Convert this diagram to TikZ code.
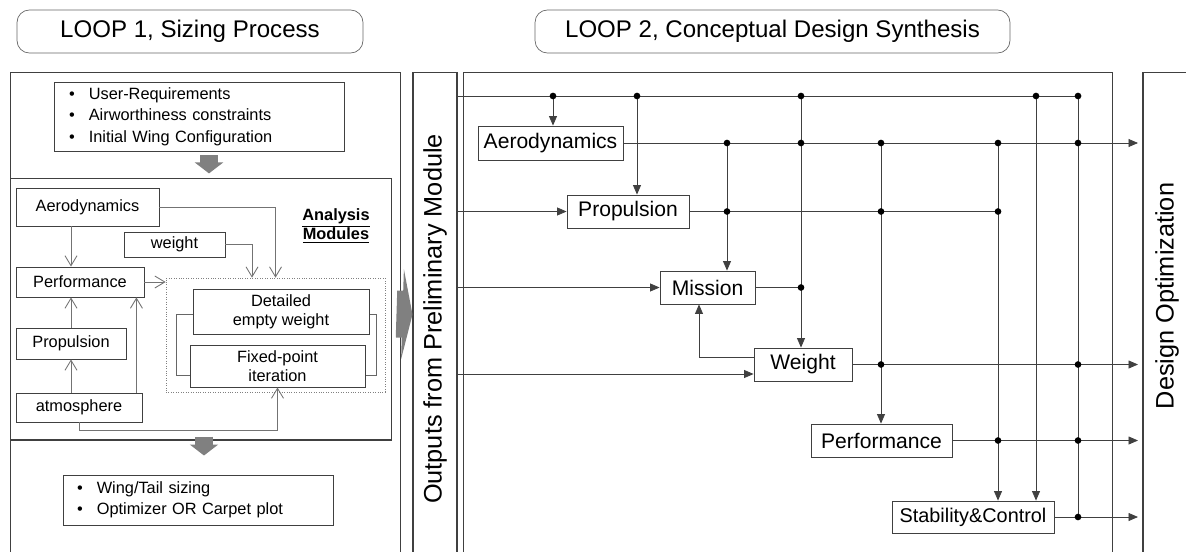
\documentclass[tikz,border=0pt]{standalone}
\usepackage{fontspec}
\setmainfont{Liberation Sans}
\usepackage{tikz}
\usetikzlibrary{
        arrows.meta,
        positioning
    }
\definecolor{blockgray}{RGB}{128,128,128}
\definecolor{framegray}{RGB}{64,64,64}
\tikzset{
  title box/.style={draw=black!60,rounded corners=7pt,minimum height=0.86cm,inner sep=0pt,font=\fontsize{13.7}{16}\selectfont},
  frame/.style={draw=framegray,line width=0.6pt,inner sep=0pt,minimum height=9.68cm},
  module/.style={draw=framegray,fill=white,inner sep=0pt,line width=0.5pt,align=center,font=\fontsize{9.3}{11}\selectfont},
  bullets/.style={draw=framegray,line width=0.5pt,align=left,inner ysep=0pt,font=\fontsize{9.3}{12.2}\selectfont},
  block/.style={draw=black!75,fill=white,inner sep=0pt,minimum height=0.66cm,line width=0.5pt,font=\fontsize{12}{14}\selectfont},
  flow/.style={draw=black!55,line width=0.5pt,-{Straight Barb[length=2mm,width=2.4mm]}},
  bus/.style={draw=black!75,line width=0.45pt},
  feed/.style={bus,-{Triangle[length=1.9mm,width=1.6mm]}},
  bigdown/.style={draw=blockgray,line width=0.36cm,-{Triangle[length=0.22cm,width=0.56cm]}},
  bigright/.style={draw=blockgray,line width=0.94cm,-{Triangle[length=0.2cm,width=1.8cm]}},
  vlabel/.style={rotate=90,font=\fontsize{14.4}{16}\selectfont}
}

\begin{document}
\begin{tikzpicture}[x=0.02cm,y=-0.02cm]
    \useasboundingbox (0,0) rectangle (1186,551);
    % titles
    \node[title box,minimum width=6.92cm] (title1) at (190,31.5) {LOOP 1, Sizing Process};
    \node[title box,minimum width=9.5cm] (title2) at (772.5,31.5) {LOOP 2, Conceptual Design Synthesis};

    % frames
    \node[frame,minimum width=7.82cm] (loop1box) at (205.5,314) {};
    \node[frame,minimum width=0.88cm] (outbox) at (435,314.5) {};
    \node[frame,minimum width=13cm] (loop2box) at (788,314.5) {};
    \node[frame,minimum width=0.96cm] (optbox) at (1167,314.5) {};
    \node[vlabel] (outlbl) at (435,319) {Outputs from Preliminary Module};
    \node[vlabel] (optlbl) at (1167,296) {Design Optimization};

    % loop 1
    \node[bullets,minimum width=5.8cm,minimum height=1.38cm,text width=5.2cm,inner xsep=0.3cm] (reqs) at (199,116.5)
        {\textbullet\hspace{8pt}User-Requirements\\\textbullet\hspace{8pt}Airworthiness constraints\\\textbullet\hspace{8pt}Initial Wing Configuration};
    \node[frame,minimum width=7.64cm,minimum height=5.24cm] (anabox) at (201,309) {};
    \node[bullets,minimum width=5.4cm,minimum height=1cm,text width=4.84cm,inner xsep=0.28cm] (sizing) at (198,500)
        {\textbullet\hspace{8pt}Wing/Tail sizing\\\textbullet\hspace{8pt}Optimizer OR Carpet plot};

    \node[module,minimum width=2.86cm,minimum height=0.76cm] (aero1) at (87.5,207) {Aerodynamics};
    \node[module,minimum width=2.02cm,minimum height=0.5cm] (wgt1) at (174.5,244.5) {weight};
    \node[module,minimum width=2.56cm,minimum height=0.6cm] (perf1) at (80,282) {Performance};
    \node[module,minimum width=2.2cm,minimum height=0.62cm] (prop1) at (71,343.5) {Propulsion};
    \node[module,minimum width=2.52cm,minimum height=0.58cm] (atm) at (79,407.5) {atmosphere};
    \node[font=\bfseries\fontsize{9.3}{10.8}\selectfont,align=center] (anlbl) at (336,226) {\underline{Analysis}\\\underline{Modules}};

    \node[draw=black!50,densely dotted,line width=0.4pt,minimum width=4.38cm,minimum height=2.28cm,inner sep=0pt] (itbox) at (275.5,335) {};
    \node[draw=black!60,line width=0.5pt,minimum width=4cm,minimum height=1.22cm,inner sep=0pt] (ring) at (276,344.5) {};
    \node[module,minimum width=3.52cm,minimum height=0.9cm] (det) at (281,311.5) {Detailed\\empty weight};
    \node[module,minimum width=3.5cm,minimum height=0.84cm] (fix) at (277.5,366) {Fixed-point\\iteration};

    \draw[flow] (aero1.east) -| (itbox.north);
    \draw[flow] (wgt1.east) -| ([xshift=-0.47cm]itbox.north);
    \draw[flow] (aero1.south -| prop1) -- (perf1.north -| prop1);
    \draw[flow] (prop1.north) -- (prop1 |- perf1.south);
    \draw[flow] (atm.north -| prop1) -- (prop1.south);
    \coordinate (atmup) at ([xshift=-0.12cm]atm.north east);
    \draw[flow] (atmup) -- (atmup |- perf1.south);
    \draw[flow] (perf1.east) -- (perf1.east -| itbox.west);
    \draw[flow] (atm.south) -- ++(0,8) -| (fix.south);

    \draw[bigdown] ([xshift=0.2cm,yshift=-0.08cm]reqs.south) -- ++(0,18);
    \draw[bigdown] ([xshift=0.06cm,yshift=0.08cm]anabox.south) -- ++(0,19);
    \draw[bigright] ([xshift=-0.1cm]loop1box.east) -- (outbox.west);

    % loop 2
    \node[block,minimum width=2.9cm,minimum height=0.68cm] (aero2) at (550.5,143) {Aerodynamics};
    \node[block,minimum width=2.44cm] (prop2) at (628,211.5) {Propulsion};
    \node[block,minimum width=1.9cm] (miss) at (707.5,287.5) {Mission};
    \node[block,minimum width=1.96cm] (wt) at (803,364.5) {Weight};
    \node[block,minimum width=2.82cm] (perf2) at (881.5,440.5) {Performance};
    \node[block,minimum width=3.24cm,minimum height=0.64cm,font=\fontsize{11.3}{13}\selectfont] (stab) at (973,517) {Stability\&Control};

    \foreach \n/\x in {cA/553,cB/637,cC/727,cD/801,cE/881,cF/998,cG/1036,cH/1078,cR/1138}
        \coordinate (\n) at (\x,0);
    \coordinate (top) at (457,96);
    \coordinate (wtin) at ([yshift=-0.19cm]wt.west);
    \coordinate (wtfb) at ([yshift=0.15cm]wt.west);

    \draw[bus] (top) -- (top -| cH);
    \draw[feed] (top -| cA) -- (cA |- aero2.north);
    \draw[feed] (top -| cB) -- (cB |- prop2.north);
    \draw[feed] (top -| cD) -- (cD |- wt.north);
    \draw[feed] (top -| cG) -- (cG |- stab.north);
    \draw[bus] (top -| cH) -- (stab -| cH);

    \draw[feed] (aero2.east) -- (aero2 -| cR);
    \draw[feed] (aero2 -| cC) -- (cC |- miss.north);
    \draw[feed] (aero2 -| cE) -- (cE |- perf2.north);
    \draw[feed] (aero2 -| cF) -- (cF |- stab.north);

    \draw[feed] (prop2 -| outbox.east) -- (prop2.west);
    \draw[bus] (prop2.east) -- (prop2 -| cF);
    \draw[feed] (miss -| outbox.east) -- (miss.west);
    \draw[bus] (miss.east) -- (miss -| cD);
    \draw[feed] (wtin -| outbox.east) -- (wtin);
    \draw[feed] (wtfb) -| ([xshift=-0.17cm]miss.south);

    \draw[feed] (wt.east) -- (wt -| cR);
    \draw[feed] (perf2.east) -- (perf2 -| cR);
    \draw[feed] (stab.east) -- (stab -| cR);

    \foreach \r/\c in {top/cA,top/cB,top/cD,top/cG,top/cH,
                       aero2/cC,aero2/cD,aero2/cE,aero2/cF,aero2/cH,
                       prop2/cC,prop2/cE,prop2/cF,miss/cD,
                       wt/cE,wt/cH,perf2/cF,perf2/cH,stab/cH}
        \fill[black] (\r -| \c) circle (1.9pt);
\end{tikzpicture}
\end{document}
